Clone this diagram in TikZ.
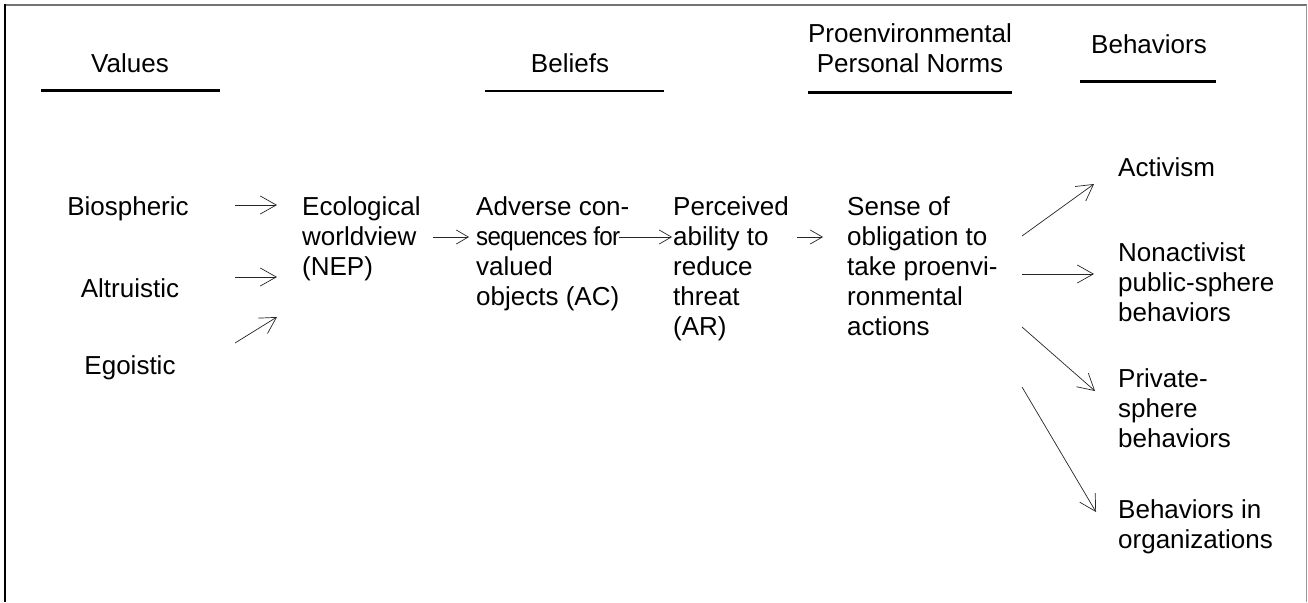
\documentclass[tikz,border=0pt]{standalone}
\usepackage{graphicx}
\usepackage{fontspec}
\setmainfont{Liberation Sans}
\newfontfamily\tightfont[LetterSpace=-3]{Liberation Sans}
\usetikzlibrary{arrows.meta}
\begin{document}
\begin{tikzpicture}[x=1pt,y=-1pt,
  txt/.style={inner sep=0pt, font=\fontsize{26}{30}\selectfont},
  % multi-line nodes: the base anchor sits on the last line
  blk/.style={txt, align=left, anchor=base west},
  hdr/.style={txt, align=center, anchor=base},
  headrule/.style={line width=2.5pt},
  link/.style={line width=0.7pt, draw=black!85, -{Straight Barb[length=16pt,width=18pt]}},
  shortlink/.style={line width=0.7pt, draw=black!85, -{Straight Barb[length=12pt,width=14pt]}},
]
\useasboundingbox (0,0) rectangle (1308,602);

% frame
\draw[line width=2pt, black!55] (4,5) -- (1307,5);
\draw[line width=2.5pt] (5,4) -- (5,602);
\draw[line width=1pt, black!40] (1306.5,5) -- (1306.5,602);

% column headings
\node[hdr] (hValues) at (130,72) {Values};
\node[hdr] (hBeliefs) at (570,73) {Beliefs};
\node[hdr] (hNorms) at (910,73) {Proenvironmental\\Personal Norms};
\node[hdr] (hBeh) at (1149,53) {Behaviors};
\draw[headrule] (41,90.5) -- (220,90.5);
\draw[headrule] (485,91) -- (664,91);
\draw[headrule] (808,92.5) -- (1012,92.5);
\draw[headrule] (1080,81.5) -- (1216,81.5);

% values
\node[hdr] (bio) at (128,215) {Biospheric};
\node[hdr] (alt) at (130,297) {Altruistic};
\node[hdr] (ego) at (130,374) {Egoistic};

% causal chain
\node[blk] (nep) at (302,275) {Ecological\\worldview\\(NEP)};
\node[blk] (ac) at (476,305) {Adverse con-\\\scalebox{0.93}[1]{\tightfont sequences for}\\valued\\objects (AC)};
\node[blk] (ar) at (673,335) {Perceived\\ability to\\reduce\\threat\\(AR)};
\node[blk] (pn) at (847,335) {Sense of\\obligation to\\take proenvi-\\ronmental\\actions};

% behaviors
\node[blk] (act) at (1118,176) {Activism};
\node[blk] (pub) at (1118,321) {Nonactivist\\public-sphere\\behaviors};
\node[blk] (priv) at (1118,447) {Private-\\sphere\\behaviors};
\node[blk] (org) at (1118,548) {Behaviors in\\organizations};

% arrow end points
\coordinate (bioS) at (235,205);  \coordinate (bioE) at (277,205);
\coordinate (altS) at (235,277);  \coordinate (altE) at (277,277);
\coordinate (egoS) at (235,343);  \coordinate (egoE) at (277,317);
\coordinate (nepS) at (433,237);  \coordinate (nepE) at (469,237);
\coordinate (acS) at (619,237);   \coordinate (acE) at (672,237);
\coordinate (arS) at (797,237);   \coordinate (arE) at (823,237);
\coordinate (actS) at (1022,236); \coordinate (actE) at (1094,184);
\coordinate (pubS) at (1022,274); \coordinate (pubE) at (1094,274);
\coordinate (privS) at (1022,327); \coordinate (privE) at (1095,391);
\coordinate (orgS) at (1022,387); \coordinate (orgE) at (1096,512);

\draw[link] (bioS) -- (bioE);
\draw[link] (altS) -- (altE);
\draw[link] (egoS) -- (egoE);
\draw[shortlink] (nepS) -- (nepE);
\draw[shortlink] (acS) -- (acE);
\draw[shortlink] (arS) -- (arE);
\draw[link] (actS) -- (actE);
\draw[link] (pubS) -- (pubE);
\draw[link] (privS) -- (privE);
\draw[link] (orgS) -- (orgE);
\end{tikzpicture}
\end{document}
